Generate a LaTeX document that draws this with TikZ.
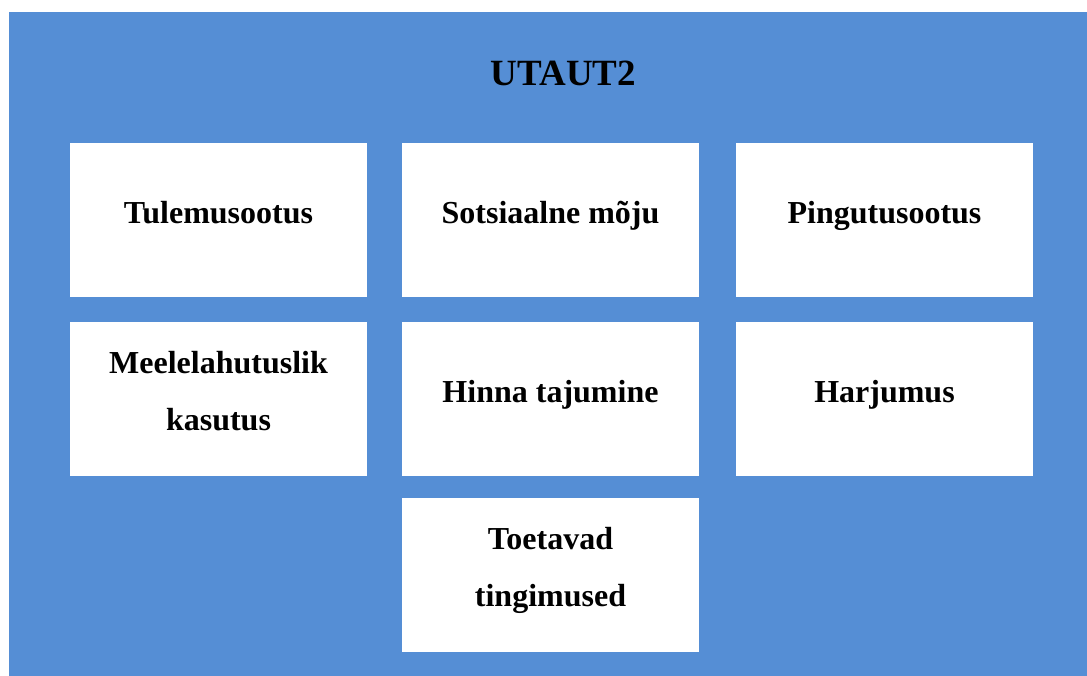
\documentclass[tikz,border=0pt]{standalone}
\usepackage{fontspec}
\setmainfont{Liberation Serif}
\begin{document}
\begin{tikzpicture}[
		x=1pt, y=-1pt,
		cell/.style={fill=white, minimum width=297pt, minimum height=154pt, inner sep=0pt},
		celltext/.style={font=\bfseries\fontsize{32}{57}\selectfont, align=center, anchor=base, inner sep=0pt},
		headline/.style={font=\bfseries\fontsize{37}{40}\selectfont, anchor=base, inner sep=0pt}
	]
	\useasboundingbox (0,0) rectangle (1087,676);
	\fill[fill={rgb,255:red,85;green,142;blue,213}] (9,12) rectangle (1087,676);
	\node[headline] (title) at (563.5,85.5) {UTAUT2};
	% first row
	\node[cell] (perf) at (218.5,220) {};
	\node[cell] (soc) at (550.5,220) {};
	\node[cell] (effort) at (884.5,220) {};
	% second row
	\node[cell] (hedon) at (218.5,399) {};
	\node[cell] (price) at (550.5,399) {};
	\node[cell] (habit) at (884.5,399) {};
	% last row
	\node[cell] (facil) at (550.5,575) {};
	\node[celltext] (perftext) at ([yshift=-3.5pt]perf.center) {Tulemusootus};
	\node[celltext] (soctext) at ([yshift=-3.5pt]soc.center) {Sotsiaalne mõju};
	\node[celltext] (efforttext) at ([yshift=-3.5pt]effort.center) {Pingutusootus};
	\node[celltext] (hedontext) at ([yshift=-31.5pt]hedon.center) {Meelelahutuslik\\kasutus};
	\node[celltext] (pricetext) at ([yshift=-3.5pt]price.center) {Hinna tajumine};
	\node[celltext] (habittext) at ([yshift=-3.5pt]habit.center) {Harjumus};
	\node[celltext] (faciltext) at ([yshift=-31.5pt]facil.center) {Toetavad\\tingimused};
\end{tikzpicture}
\end{document}
